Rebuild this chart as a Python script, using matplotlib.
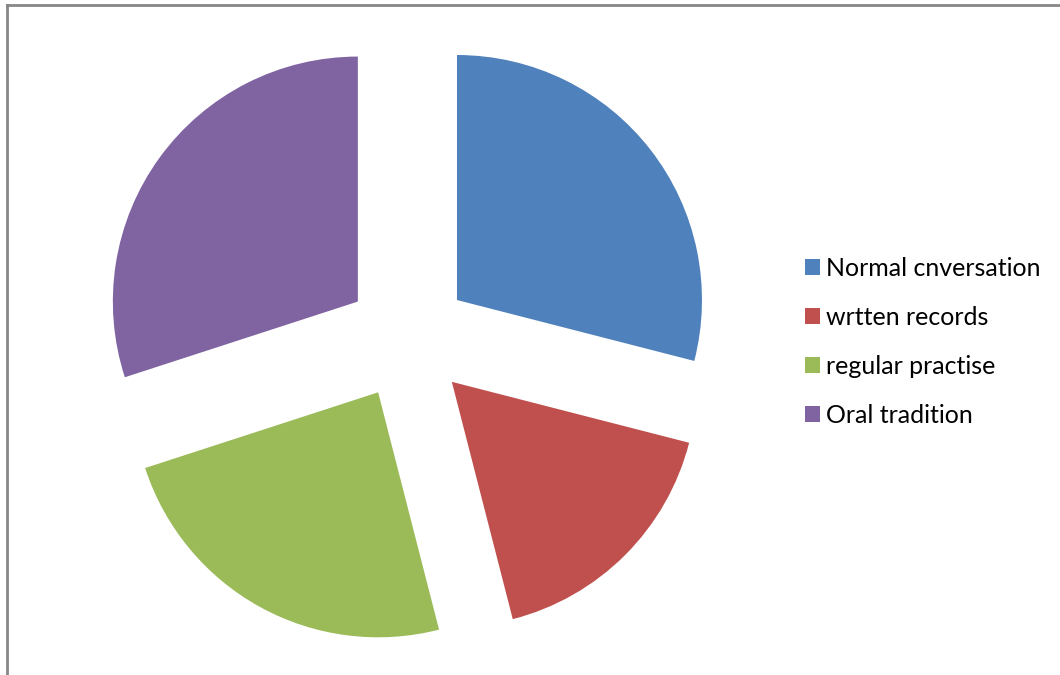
import matplotlib
matplotlib.use("Agg")
import matplotlib.pyplot as plt
from matplotlib.lines import Line2D

plt.rcParams['font.family'] = ['Lato', 'DejaVu Sans']

labels = ["Normal cnversation", "wrtten records", "regular practise", "Oral tradition"]
values = [29, 17, 24, 30]
colors = ["#4F81BD", "#C0504D", "#9BBB59", "#8064A2"]

W, H = 1060, 675
R = 245.0              # pie radius in pixels
cx, cy = 408.0, 338.0  # pie centre, pixels from top-left

fig = plt.figure(figsize=(W / 100, H / 100), dpi=100)
ax = fig.add_axes([0, 0, 1, 1])

wedges, _ = ax.pie(values, colors=colors, explode=[0.253] * len(values),
                   startangle=90, counterclock=False, radius=1, center=(0, 0),
                   frame=True)
ax.set_xlim(-cx / R, (W - cx) / R)
ax.set_ylim(-(H - cy) / R, cy / R)
ax.set_aspect("equal")
ax.axis("off")

leg = ax.legend(wedges, labels, loc="upper left",
                bbox_to_anchor=(805 / W, 1 - 257 / H), bbox_transform=fig.transFigure,
                frameon=False, fontsize=18, handlelength=0.6, handleheight=0.6,
                handletextpad=0.22, labelspacing=1.04, borderpad=0, borderaxespad=0)

# chart area border (top and left edges)
fig.add_artist(Line2D([7 / W, 1], [1 - 5 / H, 1 - 5 / H], transform=fig.transFigure,
                      color="#878787", lw=2))
fig.add_artist(Line2D([7 / W, 7 / W], [0, 1 - 5 / H], transform=fig.transFigure,
                      color="#878787", lw=2))

fig.savefig("out.png", dpi=100)
